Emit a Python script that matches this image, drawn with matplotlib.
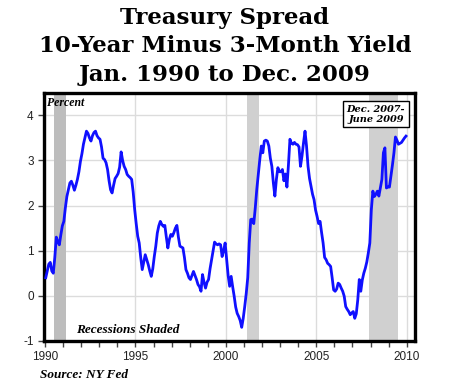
import matplotlib
matplotlib.use("Agg")
import matplotlib.pyplot as plt
import numpy as np
from matplotlib.ticker import MultipleLocator

plt.rcParams['axes.unicode_minus'] = False

# monthly spread, 10-year minus 3-month (percent)
years = list(range(1990, 2010))
spread = {
    1990: [0.40, 0.55, 0.70, 0.74, 0.55, 0.50, 0.85, 1.30, 1.20, 1.13, 1.35, 1.55],
    1991: [1.65, 1.95, 2.20, 2.35, 2.50, 2.54, 2.45, 2.34, 2.45, 2.58, 2.75, 2.98],
    1992: [3.15, 3.36, 3.50, 3.65, 3.60, 3.50, 3.43, 3.55, 3.62, 3.65, 3.55, 3.50],
    1993: [3.47, 3.30, 3.05, 3.02, 2.95, 2.80, 2.55, 2.35, 2.28, 2.45, 2.60, 2.65],
    1994: [2.71, 2.85, 3.19, 3.00, 2.87, 2.80, 2.69, 2.65, 2.62, 2.58, 2.30, 1.91],
    1995: [1.60, 1.32, 1.17, 0.85, 0.58, 0.75, 0.91, 0.80, 0.69, 0.55, 0.43, 0.60],
    1996: [0.87, 1.10, 1.39, 1.55, 1.65, 1.58, 1.54, 1.56, 1.30, 1.06, 1.25, 1.36],
    1997: [1.32, 1.40, 1.50, 1.56, 1.30, 1.10, 1.08, 1.06, 0.85, 0.58, 0.50, 0.40],
    1998: [0.36, 0.45, 0.54, 0.45, 0.36, 0.25, 0.20, 0.10, 0.47, 0.30, 0.17, 0.30],
    1999: [0.36, 0.60, 0.80, 1.00, 1.19, 1.15, 1.13, 1.15, 1.13, 0.87, 1.00, 1.17],
    2000: [0.80, 0.45, 0.21, 0.43, 0.20, -0.01, -0.25, -0.39, -0.46, -0.55, -0.70, -0.50],
    2001: [-0.24, 0.05, 0.40, 1.17, 1.69, 1.70, 1.60, 1.95, 2.36, 2.70, 3.02, 3.32],
    2002: [3.17, 3.43, 3.45, 3.43, 3.32, 3.05, 2.87, 2.50, 2.21, 2.58, 2.84, 2.75],
    2003: [2.75, 2.80, 2.55, 2.70, 2.41, 2.90, 3.47, 3.38, 3.36, 3.40, 3.36, 3.35],
    2004: [3.30, 2.87, 3.10, 3.39, 3.65, 3.32, 2.87, 2.60, 2.43, 2.25, 2.13, 1.90],
    2005: [1.76, 1.60, 1.65, 1.40, 1.17, 0.85, 0.80, 0.72, 0.69, 0.65, 0.40, 0.13],
    2006: [0.10, 0.15, 0.28, 0.25, 0.17, 0.10, -0.01, -0.24, -0.30, -0.35, -0.42, -0.38],
    2007: [-0.35, -0.50, -0.40, -0.09, 0.36, 0.10, 0.35, 0.50, 0.61, 0.75, 0.95, 1.17],
    2008: [1.91, 2.32, 2.20, 2.25, 2.32, 2.21, 2.40, 2.58, 3.17, 3.28, 2.39, 2.41],
    2009: [2.41, 2.65, 2.90, 3.17, 3.52, 3.45, 3.36, 3.38, 3.40, 3.45, 3.50, 3.54],
}
recessions = [(1990.5, 1991.17), (2001.17, 2001.84), (2007.92, 2009.5)]
rec_colors = ['#bdbdbd', '#d0d0d0', '#d0d0d0']

x = []
y = []
for yr in years:
    for m, v in enumerate(spread[yr]):
        x.append(yr + (m + 0.5) / 12)
        y.append(v)

fig = plt.figure(figsize=(4.5, 3.9), dpi=100)
ax = fig.add_axes([0.098, 0.126, 0.824, 0.636])

for (a, b), c in zip(recessions, rec_colors):
    ax.axvspan(a, b, color=c, lw=0, zorder=1)

ax.plot(x, y, color='#1010ff', lw=2.0, zorder=3)

ax.set_xlim(1989.95, 2010.45)
ax.set_ylim(-1, 4.5)
ax.xaxis.set_major_locator(MultipleLocator(5))
ax.xaxis.set_minor_locator(MultipleLocator(1))
ax.yaxis.set_major_locator(MultipleLocator(1))
ax.grid(True, which='major', color='#dcdcdc', lw=1, zorder=0)
ax.set_axisbelow(True)
ax.tick_params(which='both', direction='out', color='#444444', labelsize=8.5,
               labelcolor='#222222', width=1, length=4)
for lab in ax.get_xticklabels() + ax.get_yticklabels():
    lab.set_fontfamily('Liberation Sans')
for s in ax.spines.values():
    s.set_linewidth(2.4)
    s.set_color('black')

serif = 'DejaVu Serif'
lab_serif = 'Liberation Serif'
fig.text(0.5, 0.982, "Treasury Spread\n10-Year Minus 3-Month Yield\nJan. 1990 to Dec. 2009",
         ha='center', va='top', fontsize=16.5, fontweight='bold', family=serif,
         linespacing=1.38)

ax.text(0.008, 0.985, "Percent", transform=ax.transAxes, ha='left', va='top',
        fontsize=8.5, fontweight='bold', style='italic', family=lab_serif)
ax.text(0.085, 0.042, "Recessions Shaded", transform=ax.transAxes, ha='left',
        va='center', fontsize=9.5, fontweight='bold', style='italic', family=lab_serif)
ax.text(0.895, 0.913, "Dec. 2007-\nJune 2009", transform=ax.transAxes, ha='center',
        va='center', fontsize=7, style='italic', fontweight='bold', family=serif,
        linespacing=1.15, zorder=5,
        bbox=dict(boxstyle='square,pad=0.35', fc='white', ec='black', lw=1))
fig.text(0.09, 0.038, "Source: NY Fed", ha='left', va='center', fontsize=9.5,
         fontweight='bold', style='italic', family=lab_serif)

fig.savefig('out.png', dpi=100)
